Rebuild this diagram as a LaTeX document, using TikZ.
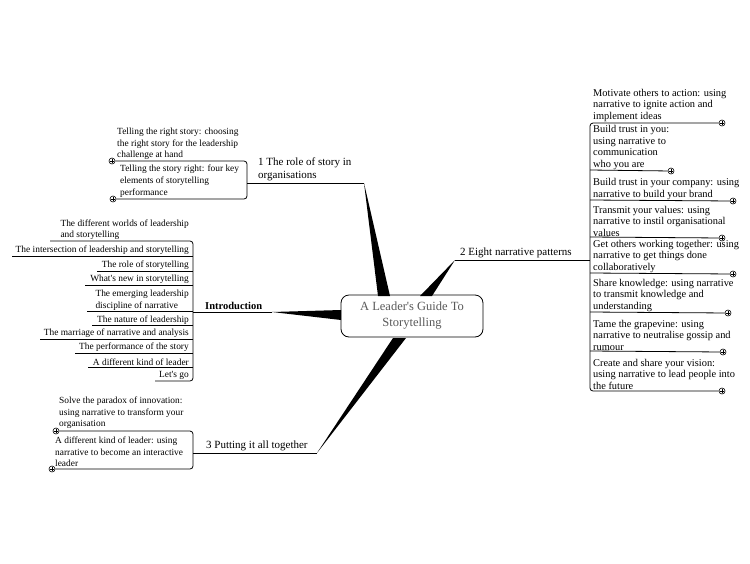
\documentclass[tikz,border=0pt]{standalone}
\usepackage{fontspec}
\setmainfont{Liberation Serif}
\newcommand{\ap}{\textquotesingle}
\begin{document}
\begin{tikzpicture}[x=1pt,y=-1pt,
 sub/.style={font=\fontsize{9.4}{11.6}\selectfont,inner xsep=1pt,inner ysep=2pt,yshift=-1.2pt},
 rsub/.style={font=\fontsize{10.4}{11.6}\selectfont,inner xsep=1pt,inner ysep=1.5pt,yshift=-1.2pt},
 br/.style={font=\fontsize{11}{13}\selectfont,inner xsep=1pt,inner ysep=2pt,align=left},
 ln/.style={line width=0.8pt},
 plus/.style={circle,draw,line width=0.6pt,inner sep=0,minimum size=6pt,fill=white,
   path picture={\draw[line width=0.6pt] ([yshift=-1.8pt]path picture bounding box.center)--([yshift=1.8pt]path picture bounding box.center)
   ([xshift=-1.8pt]path picture bounding box.center)--([xshift=1.8pt]path picture bounding box.center);}},
 taper/.style={fill=black}]
\useasboundingbox (0,0) rectangle (750,563);
% center
\node[draw,rounded corners=8pt,line width=0.8pt,minimum width=142pt,minimum height=42pt,align=center,
  text=black!65,font=\fontsize{12.5}{16}\selectfont] (c) at (412,316) {A Leader\ap s Guide To\\Storytelling};
% tapers
\fill[taper] (364,183) -- (390,296) -- (378,296) -- cycle;
\fill[taper] (455,260) -- (432,296) -- (420,296) -- cycle;
\fill[taper] (317,453) -- (406,338) -- (393,338) -- cycle;
\fill[taper] (272,312) -- (341,310) -- (341,320) -- cycle;
% branch labels
\node[br,anchor=south west] (b1) at (257,183) {1 The role of story in\\organisations};
\node[br,anchor=south west] (b2) at (459,260) {2 Eight narrative patterns};
\node[br,anchor=south west] (b3) at (205,453) {3 Putting it all together};
\node[br,anchor=south west,font=\fontsize{10.5}{13}\selectfont\bfseries] (bi) at (204,312) {Introduction};
\coordinate (k1) at (247,183); \coordinate (k2) at (590,260);
\coordinate (k3) at (193,453); \coordinate (ki) at (193,312);
\draw[ln] (k1) -- (364,183);
\draw[ln] (455,260) -- (k2);
\draw[ln] (k3) -- (317,453);
\draw[ln] (ki) -- (272,312);
% branch 1 children
\node[sub,anchor=south west,align=left] (r1) at (116,161) {Telling the right story: choosing\\the right story for the leadership\\challenge at hand};
\node[sub,anchor=south west,align=left] (r2) at (119,198) {Telling the story right: four key\\elements of storytelling\\performance};
\node[plus] (p1) at (112,161) {};
\node[plus] (p2) at (113,199) {};
\draw[ln,rounded corners=3pt] (p1) -- (247,161) -- (247,199) -- (p2);
% intro children
\def\xb{193}
\foreach \n/\y/\l/\t in {i1/241/50/{The different worlds of leadership\\and storytelling},
 i2/256/12/{The intersection of leadership and storytelling},
 i3/271/97/{The role of storytelling},
 i4/285/85/{What\ap s new in storytelling},
 i5/311/87/{The emerging leadership\\discipline of narrative},
 i6/325/92/{The nature of leadership},
 i7/339/40/{The marriage of narrative and analysis},
 i8/353/75/{The performance of the story},
 i9/367/88/{A different kind of leader},
 i10/381/155/{Let\ap s go}}{
 \node[sub,anchor=south east,align=left] (\n) at (190,\y) {\t};
 \coordinate (\n l) at (\l,\y);
}
\foreach \n in {i2,i3,i4,i5,i6,i7,i8,i9}{\draw[ln] (\n l) -- (\xb,0 |- \n l);}
\draw[ln,rounded corners=3pt] (i1l) -- (\xb,241) -- (\xb,381) -- (i10l);
% group 3 children
\node[sub,anchor=south west,align=left] (s1) at (58,430) {Solve the paradox of innovation:\\using narrative to transform your\\organisation};
\node[sub,anchor=south west,align=left] (s2) at (54,468) {A different kind of leader: using\\narrative to become an interactive\\leader};
\node[plus] (q1) at (56,431) {};
\node[plus] (q2) at (52,469) {};
\draw[ln,rounded corners=3pt] (q1) -- (193,431) -- (193,469) -- (q2);
% right children
\foreach \n/\y/\e/\t in {m1/122/722/{Motivate others to action: using\\narrative to ignite action and\\implement ideas},
 m2/170/671/{Build trust in you:\\using narrative to\\communication\\who you are},
 m3/200/733/{Build trust in your company: using\\narrative to build your brand},
 m4/237/722/{Transmit your values: using\\narrative to instil organisational\\values},
 m5/273/733/{Get others working together: using\\narrative to get things done\\collaboratively},
 m6/312/728/{Share knowledge: using narrative\\to transmit knowledge and\\understanding},
 m7/351/723/{Tame the grapevine: using\\narrative to neutralise gossip and\\rumour},
 m8/390/722/{Create and share your vision:\\using narrative to lead people into\\the future}}{
 \node[rsub,anchor=south west,align=left] (\n) at (592,\y) {\t};
 \node[plus] (\n p) at (\e,\y+1) {};
}
\foreach \n/\y in {m2/170,m3/200,m4/237,m5/273,m6/312,m7/351}{\draw[ln] (590,\y) -- (\n p);}
\draw[ln,rounded corners=3pt] (m1p) -- (590,123) -- (590,391) -- (m8p);
\end{tikzpicture}
\end{document}
